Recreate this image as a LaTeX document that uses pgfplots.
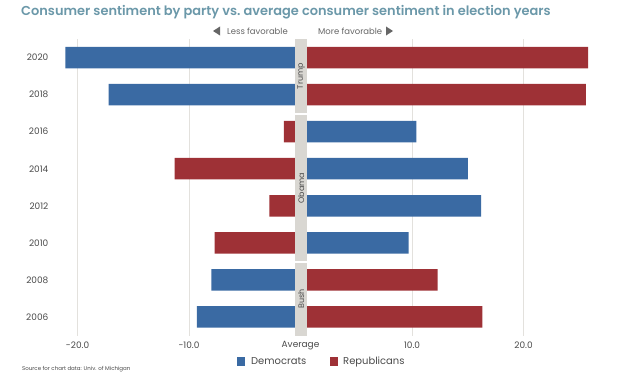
\documentclass[border=0pt]{standalone}
\usepackage{pgfplots}
\pgfplotsset{compat=1.18}
\usepackage{fontspec}
\setmainfont{Poppins}[BoldFont={Poppins SemiBold}]
\definecolor{dem}{HTML}{3A6AA3}
\definecolor{rep}{HTML}{9E3136}
\definecolor{bandc}{HTML}{D9D7D2}
\definecolor{gridc}{HTML}{E3E1DD}
\definecolor{titlec}{HTML}{6B98A9}
\definecolor{txt}{HTML}{4A4A4A}
\definecolor{hint}{HTML}{666666}
\begin{document}
\begin{tikzpicture}[x=1bp,y=1bp]
\path[use as bounding box] (0,0) rectangle (623,375);
\node[anchor=west, font=\bfseries\fontsize{13}{14}\selectfont, text=titlec, inner sep=0] at (21,363) {Consumer sentiment by party vs.\ average consumer sentiment in election years};
\begin{axis}[at={(60.8bp,39.5bp)}, anchor=south west, scale only axis,
  width=535.2bp, height=296.5bp,
  xmin=-21.5, xmax=26.5, ymin=-0.5, ymax=7.5,
  clip=false,
  axis line style={draw=none},
  tick style={draw=none},
  xbar, bar width=21.5bp, bar shift=0pt,
  xtick={-20,-10,10,20}, xticklabels={-20.0,-10.0,10.0,20.0},
  extra x ticks={0}, extra x tick labels={Average},
  extra x tick style={xmajorgrids=false},
  xmajorgrids, grid style={gridc, line width=1bp},
  ytick={0,1,2,3,4,5,6,7},
  yticklabels={2006,2008,2010,2012,2014,2016,2018,2020},
  xticklabel style={font=\fontsize{9}{10}\selectfont, text=txt, inner sep=0pt, anchor=north, yshift=-6bp},
  yticklabel style={font=\fontsize{9}{10}\selectfont, text=txt, inner sep=0pt, anchor=east, xshift=-8bp},
]
\addplot[fill=dem, draw=none] coordinates {
(-9.3,0) (-8.0,1) (9.7,2) (16.2,3) (15.0,4) (10.4,5) (-17.2,6) (-21.1,7)};
\addplot[fill=rep, draw=none] coordinates {
(16.3,0) (12.3,1) (-7.7,2) (-2.8,3) (-11.3,4) (-1.5,5) (25.6,6) (25.8,7)};
\fill[bandc] (axis cs:-0.5,5.51) rectangle (axis cs:0.6,7.5);
\fill[bandc] (axis cs:-0.5,1.51) rectangle (axis cs:0.6,5.45);
\fill[bandc] (axis cs:-0.5,-0.5) rectangle (axis cs:0.6,1.45);
\node[rotate=90, font=\fontsize{8}{9}\selectfont, text=txt] at (axis cs:0.05,6.5) {Trump};
\node[rotate=90, font=\fontsize{8}{9}\selectfont, text=txt] at (axis cs:0.05,3.48) {Obama};
\node[rotate=90, font=\fontsize{8}{9}\selectfont, text=txt] at (axis cs:0.05,0.49) {Bush};
\end{axis}
% direction hints
\fill[hint] (213,344) -- (220,348.5) -- (220,339.5) -- cycle;
\node[anchor=east, inner sep=0, font=\fontsize{8.5}{9}\selectfont, text=hint] at (288,344) {Less favorable};
\node[anchor=west, inner sep=0, font=\fontsize{8.5}{9}\selectfont, text=hint] at (318,344) {More favorable};
\fill[hint] (393,344) -- (386,348.5) -- (386,339.5) -- cycle;
% legend
\fill[dem] (237,9) rectangle (245,18);
\node[anchor=west, inner sep=0, font=\fontsize{10}{11}\selectfont, text=txt] at (251,13.5) {Democrats};
\fill[rep] (330,9) rectangle (338,18);
\node[anchor=west, inner sep=0, font=\fontsize{10}{11}\selectfont, text=txt] at (343,13.5) {Republicans};
% source
\node[anchor=west, inner sep=0, font=\fontsize{5.5}{6}\selectfont, text=txt] at (22,6) {Source for chart data: Univ. of Michigan};
\end{tikzpicture}
\end{document}
